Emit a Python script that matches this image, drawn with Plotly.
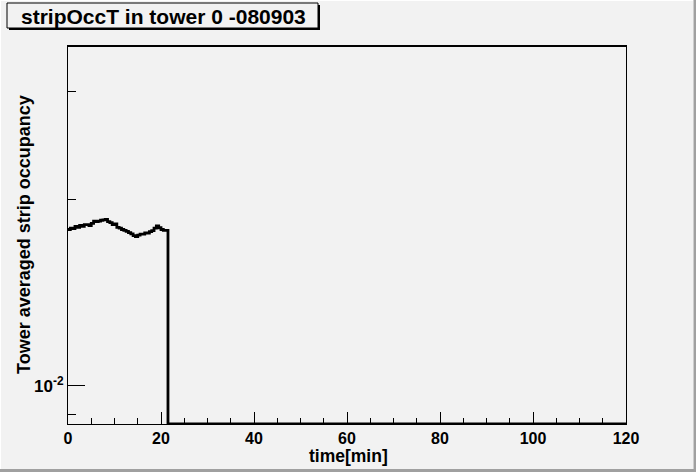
import numpy as np
import plotly.graph_objects as go

# ---------------- data ----------------
title_text = "stripOccT in tower 0 -080903"
x_title = "time[min]"
y_title = "Tower averaged strip occupancy"

bin_width = 0.5          # minutes
x_min, x_max = 0, 120
# tower averaged strip occupancy per 0.5-min bin (filled bins, 0 - 21.5 min)
occupancy_filled = [
    0.01791, 0.01800, 0.01797, 0.01812, 0.01806, 0.01818, 0.01812, 0.01824,
    0.01824, 0.01818, 0.01833, 0.01848, 0.01845, 0.01848, 0.01854, 0.01857,
    0.01860, 0.01845, 0.01838, 0.01824, 0.01829, 0.01806, 0.01800, 0.01791,
    0.01785, 0.01779, 0.01771, 0.01762, 0.01751, 0.01745, 0.01754, 0.01760,
    0.01760, 0.01768, 0.01768, 0.01777, 0.01783, 0.01800, 0.01815, 0.01803,
    0.01791, 0.01785, 0.01785,
]
n_bins = int((x_max - x_min) / bin_width)
occupancy = occupancy_filled + [0.0] * (n_bins - len(occupancy_filled))  # empty bins

x_ticks = [0, 20, 40, 60, 80, 100, 120]
y_tick_vals = [0.01]
y_tick_text = ["10<sup>-2</sup>"]
y_minor_vals = [0.009, 0.02, 0.03]
y_range_vals = (0.008679, 0.03548)

# ---------------- layout helpers ----------------
W, H = 696, 472
L, R, T, B = 68, 626, 46, 424


def px(x):
    return (x - L) / (R - L)


def py(y):
    return (B - y) / (B - T)


ylog_min = np.log10(y_range_vals[0])
ylog_max = np.log10(y_range_vals[1])

edges = np.arange(x_min, x_max + bin_width / 2, bin_width)
# values below the axis minimum are drawn on the bottom edge (as ROOT does)
yplot = [v if v > y_range_vals[0] else y_range_vals[0] for v in occupancy]
xs = list(edges[:-1]) + [edges[-1]]
ys = yplot + [yplot[-1]]

bg = "#f2f2f2"
font_fam = "Liberation Sans, Arial, sans-serif"

fig = go.Figure()
fig.add_trace(go.Scatter(
    x=xs, y=ys, mode="lines", line=dict(color="black", width=2.8, shape="hv"),
    hoverinfo="skip", showlegend=False,
))

fig.update_layout(
    width=W, height=H,
    margin=dict(l=L, r=W - R, t=T, b=H - B, pad=0),
    paper_bgcolor=bg, plot_bgcolor=bg,
    font=dict(family=font_fam, color="black", size=16),
    showlegend=False,
)

fig.update_xaxes(
    range=[x_min, x_max], tickvals=x_ticks, ticktext=[f"<b>{t}</b>" for t in x_ticks],
    ticks="inside", ticklen=12, tickwidth=1, tickcolor="black",
    minor=dict(dtick=5, tick0=0, ticks="inside", ticklen=6, tickwidth=1, tickcolor="black"),
    showline=True, linecolor="black", linewidth=1, mirror=True,
    showgrid=False, zeroline=False, tickfont=dict(size=16),
)
fig.update_yaxes(
    type="log", range=[ylog_min, ylog_max],
    tickmode="array", tickvals=y_tick_vals, ticktext=[f"<b>{t}</b>" for t in y_tick_text],
    ticks="inside", ticklen=17, tickwidth=1, tickcolor="black",
    minor=dict(tickmode="array", tickvals=y_minor_vals, ticks="inside", ticklen=8,
               tickwidth=1, tickcolor="black", showgrid=False),
    showline=True, linecolor="black", linewidth=1, mirror=True,
    showgrid=False, zeroline=False, tickfont=dict(size=17),
)

shapes = []
# thicker top frame edge
shapes.append(dict(type="line", xref="paper", yref="paper", x0=0, x1=1, y0=1, y1=1,
                   line=dict(color="black", width=2)))
# title box shadow and box
shapes.append(dict(type="rect", xref="paper", yref="paper",
                   x0=px(9), x1=px(320), y0=py(30), y1=py(5),
                   fillcolor="black", line=dict(width=0), layer="above"))
shapes.append(dict(type="rect", xref="paper", yref="paper",
                   x0=px(7), x1=px(318), y0=py(28), y1=py(3),
                   fillcolor=bg, line=dict(color="black", width=1), layer="above"))
# canvas bevel edges
shapes.append(dict(type="line", xref="paper", yref="paper", x0=px(694.8), x1=px(694.8),
                   y0=py(0), y1=py(472), line=dict(color="#a0a0a0", width=2.5)))
shapes.append(dict(type="line", xref="paper", yref="paper", x0=px(0), x1=px(696),
                   y0=py(470.5), y1=py(470.5), line=dict(color="#a0a0a0", width=3)))
shapes.append(dict(type="line", xref="paper", yref="paper", x0=px(0.5), x1=px(0.5),
                   y0=py(0), y1=py(469), line=dict(color="white", width=1)))
shapes.append(dict(type="line", xref="paper", yref="paper", x0=px(0), x1=px(693),
                   y0=py(0.5), y1=py(0.5), line=dict(color="white", width=1)))
fig.update_layout(shapes=shapes)

annotations = [
    dict(text=f"<b>{title_text}</b>", xref="paper", yref="paper",
         x=px(163), y=py(16), xanchor="center", yanchor="middle",
         showarrow=False, font=dict(size=21, family=font_fam)),
    dict(text=f"<b>{x_title}</b>", xref="paper", yref="paper",
         x=px(348), y=py(456), xanchor="center", yanchor="middle",
         showarrow=False, font=dict(size=17.5, family=font_fam)),
    dict(text=f"<b>{y_title}</b>", xref="paper", yref="paper",
         x=px(24), y=py(235), xanchor="center", yanchor="middle", textangle=-90,
         showarrow=False, font=dict(size=18, family=font_fam)),
]
fig.update_layout(annotations=annotations)

fig.write_html("out.html", config={"displayModeBar": False},
               post_script="document.body.style.margin='0';document.body.style.padding='0';")
